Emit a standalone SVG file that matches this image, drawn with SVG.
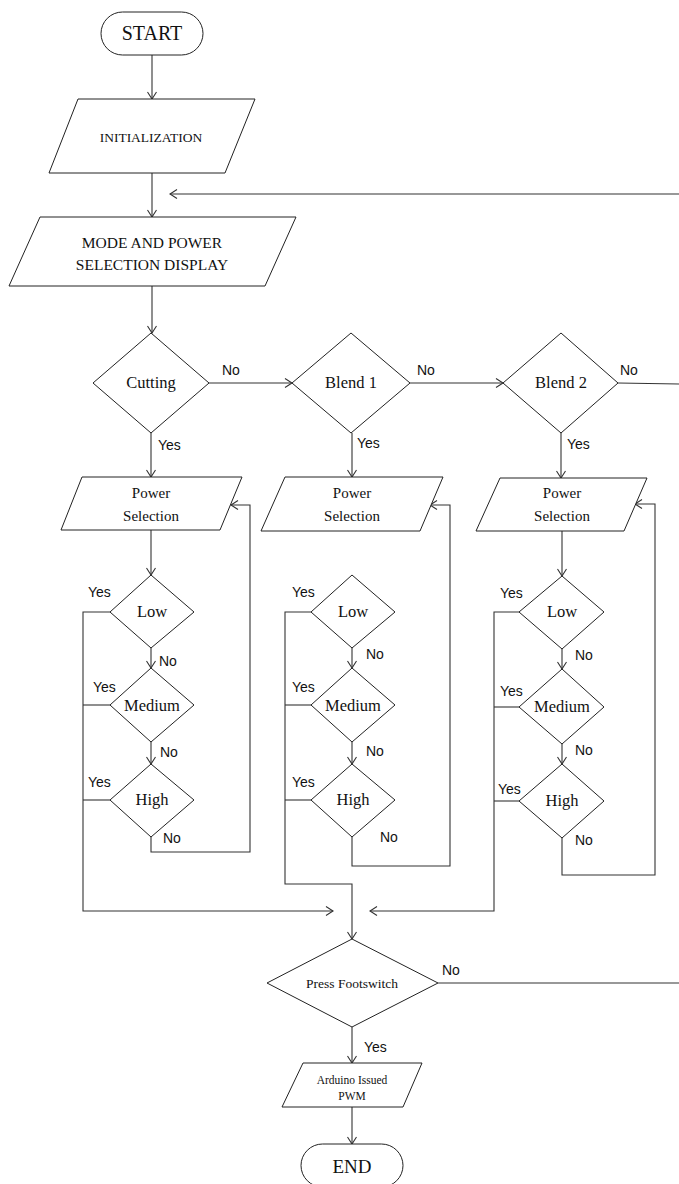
<svg xmlns="http://www.w3.org/2000/svg" width="679" height="1184" viewBox="0 0 679 1184">
<defs>
<style>
.shape{fill:#fff;stroke:#222;stroke-width:1}
.line{fill:none;stroke:#333;stroke-width:1.1}
.t{font-family:"Liberation Serif","Times New Roman",serif;fill:#111;text-anchor:middle}
.lbl{font-family:"Liberation Sans",Arial,sans-serif;font-size:14px;fill:#111}
</style>
<marker id="arr" markerUnits="userSpaceOnUse" markerWidth="12" markerHeight="12" viewBox="-9 -6 12 12" refX="0" refY="0" orient="auto">
<path d="M-7,-4.5 L0,0 L-7,4.5" fill="none" stroke="#333" stroke-width="1.1"/>
</marker>
</defs>
<rect width="679" height="1184" fill="#fff"/>

<g id="connectors">
<line class="line" x1="152" y1="55" x2="152" y2="99" marker-end="url(#arr)"/>
<line class="line" x1="152" y1="173" x2="152" y2="217" marker-end="url(#arr)"/>
<line class="line" x1="679" y1="194" x2="170" y2="194" stroke="#555" stroke-width="1.4" marker-end="url(#arr)"/>
<line class="line" x1="152" y1="286" x2="152" y2="333" marker-end="url(#arr)"/>
<line class="line" x1="209" y1="383" x2="292" y2="383" marker-end="url(#arr)"/>
<line class="line" x1="410" y1="383" x2="503" y2="383" marker-end="url(#arr)"/>
<line class="line" x1="618" y1="383" x2="679" y2="384"/>
<line class="line" x1="151" y1="433" x2="151" y2="477" marker-end="url(#arr)"/>
<line class="line" x1="352" y1="433" x2="352" y2="477" marker-end="url(#arr)"/>
<line class="line" x1="561" y1="433" x2="561" y2="478" marker-end="url(#arr)"/>
<!-- column 1 -->
<line class="line" x1="151" y1="530" x2="151" y2="575" marker-end="url(#arr)"/>
<line class="line" x1="151" y1="648" x2="151" y2="668" marker-end="url(#arr)"/>
<line class="line" x1="151" y1="742" x2="151" y2="764" marker-end="url(#arr)"/>
<polyline class="line" points="151,837 151,852 250,852 250,505 231,505" marker-end="url(#arr)"/>
<polyline class="line" points="110,612 83,612 83,911 333,911" marker-end="url(#arr)"/>
<polyline class="line" points="110,705 83,705"/>
<polyline class="line" points="110,800 83,800"/>
<!-- column 2 -->
<line class="line" x1="352" y1="648" x2="352" y2="668" marker-end="url(#arr)"/>
<line class="line" x1="352" y1="742" x2="352" y2="764" marker-end="url(#arr)"/>
<polyline class="line" points="352,837 352,866 450,866 450,505 430,505" marker-end="url(#arr)"/>
<polyline class="line" points="311,612 285,612 285,884 352,884 352,939" marker-end="url(#arr)"/>
<polyline class="line" points="311,705 285,705"/>
<polyline class="line" points="311,800 285,800"/>
<!-- column 3 -->
<line class="line" x1="562" y1="531" x2="562" y2="576" marker-end="url(#arr)"/>
<line class="line" x1="562" y1="649" x2="562" y2="669" marker-end="url(#arr)"/>
<line class="line" x1="562" y1="744" x2="562" y2="764" marker-end="url(#arr)"/>
<polyline class="line" points="562,838 562,875 655,875 655,504 635,504" marker-end="url(#arr)"/>
<polyline class="line" points="519,612 494,612 494,911 370,911" marker-end="url(#arr)"/>
<polyline class="line" points="519,707 494,707"/>
<polyline class="line" points="519,801 494,801"/>
<!-- bottom -->
<line class="line" x1="438" y1="983" x2="679" y2="983"/>
<line class="line" x1="352" y1="1027" x2="352" y2="1063" marker-end="url(#arr)"/>
<line class="line" x1="352" y1="1107" x2="352" y2="1144" marker-end="url(#arr)"/>
</g>

<g id="start">
<rect class="shape" x="101" y="12" width="102" height="43" rx="21.5"/>
<text class="t" x="152" y="40" font-size="20">START</text>
</g>
<g id="initialization">
<polygon class="shape" points="78,99 255,99 225,173 49,173"/>
<text class="t" x="151" y="141.5" font-size="13.5">INITIALIZATION</text>
</g>
<g id="mode-display">
<polygon class="shape" points="40,217 296,217 265,286 9,286"/>
<text class="t" x="152" y="248" font-size="15.5">MODE AND POWER</text>
<text class="t" x="152" y="270" font-size="15.5">SELECTION DISPLAY</text>
</g>
<g id="cutting">
<polygon class="shape" points="151,333 209,383 151,433 93,383"/>
<text class="t" x="151" y="388" font-size="16.5">Cutting</text>
</g>
<g id="blend1">
<polygon class="shape" points="351,333 410,383 351,433 292,383"/>
<text class="t" x="351" y="388" font-size="16.5">Blend 1</text>
</g>
<g id="blend2">
<polygon class="shape" points="561,333 618,383 561,433 503,383"/>
<text class="t" x="561" y="388" font-size="16.5">Blend 2</text>
</g>

<g id="power1">
<polygon class="shape" points="82,477 242,477 220,530 61,530"/>
<text class="t" x="151" y="498" font-size="15">Power</text>
<text class="t" x="151" y="521" font-size="15">Selection</text>
</g>
<g id="power2">
<polygon class="shape" points="285,477 443,477 420,531 261,531"/>
<text class="t" x="352" y="498" font-size="15">Power</text>
<text class="t" x="352" y="521" font-size="15">Selection</text>
</g>
<g id="power3">
<polygon class="shape" points="500,478 647,478 624,531 476,531"/>
<text class="t" x="562" y="498" font-size="15">Power</text>
<text class="t" x="562" y="521" font-size="15">Selection</text>
</g>

<g id="low1">
<polygon class="shape" points="151,575 194,612 151,648 110,612"/>
<text class="t" x="152" y="617" font-size="16.5">Low</text>
</g>
<g id="medium1">
<polygon class="shape" points="151,668 194,705 151,742 110,705"/>
<text class="t" x="152" y="711" font-size="16.5">Medium</text>
</g>
<g id="high1">
<polygon class="shape" points="151,764 194,800 151,837 110,800"/>
<text class="t" x="152" y="805" font-size="16.5">High</text>
</g>

<g id="low2">
<polygon class="shape" points="352,575 395,612 352,648 311,612"/>
<text class="t" x="353" y="617" font-size="16.5">Low</text>
</g>
<g id="medium2">
<polygon class="shape" points="352,668 395,705 352,742 311,705"/>
<text class="t" x="353" y="711" font-size="16.5">Medium</text>
</g>
<g id="high2">
<polygon class="shape" points="352,764 395,800 352,837 311,800"/>
<text class="t" x="353" y="805" font-size="16.5">High</text>
</g>

<g id="low3">
<polygon class="shape" points="562,576 604,612 562,649 519,612"/>
<text class="t" x="562" y="617" font-size="16.5">Low</text>
</g>
<g id="medium3">
<polygon class="shape" points="562,669 604,707 562,744 519,707"/>
<text class="t" x="562" y="712" font-size="16.5">Medium</text>
</g>
<g id="high3">
<polygon class="shape" points="562,764 604,801 562,838 519,801"/>
<text class="t" x="562" y="806" font-size="16.5">High</text>
</g>

<g id="footswitch">
<polygon class="shape" points="352,939 438,983 352,1027 267,983"/>
<text class="t" x="352" y="987.5" font-size="13.5">Press Footswitch</text>
</g>
<g id="pwm">
<polygon class="shape" points="303,1063 422,1063 403,1107 282,1107"/>
<text class="t" x="352" y="1084" font-size="11.5">Arduino Issued</text>
<text class="t" x="352" y="1100" font-size="11.5">PWM</text>
</g>
<g id="end">
<rect class="shape" x="301" y="1144" width="102" height="43" rx="21.5"/>
<text class="t" x="352" y="1173" font-size="19">END</text>
</g>

<g id="labels">
<text class="lbl" x="222" y="375">No</text>
<text class="lbl" x="417" y="375">No</text>
<text class="lbl" x="620" y="375">No</text>
<text class="lbl" x="158" y="450">Yes</text>
<text class="lbl" x="357" y="448">Yes</text>
<text class="lbl" x="567" y="449">Yes</text>

<text class="lbl" x="88" y="597">Yes</text>
<text class="lbl" x="93" y="692">Yes</text>
<text class="lbl" x="88" y="787">Yes</text>
<text class="lbl" x="159" y="666">No</text>
<text class="lbl" x="160" y="757">No</text>
<text class="lbl" x="163" y="843">No</text>

<text class="lbl" x="292" y="597">Yes</text>
<text class="lbl" x="292" y="692">Yes</text>
<text class="lbl" x="292" y="787">Yes</text>
<text class="lbl" x="366" y="659">No</text>
<text class="lbl" x="366" y="756">No</text>
<text class="lbl" x="380" y="842">No</text>

<text class="lbl" x="500" y="598">Yes</text>
<text class="lbl" x="500" y="696">Yes</text>
<text class="lbl" x="498" y="794">Yes</text>
<text class="lbl" x="575" y="660">No</text>
<text class="lbl" x="575" y="755">No</text>
<text class="lbl" x="575" y="845">No</text>

<text class="lbl" x="442" y="975">No</text>
<text class="lbl" x="364" y="1052">Yes</text>
</g>
</svg>
